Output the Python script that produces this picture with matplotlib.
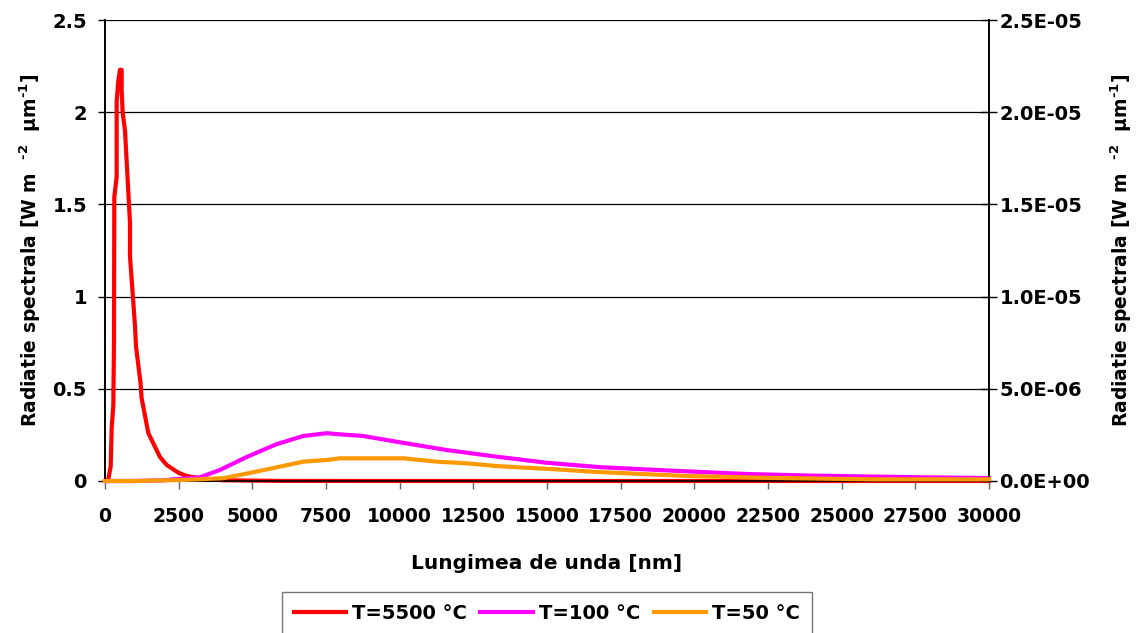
import matplotlib
matplotlib.use("Agg")
import matplotlib.pyplot as plt
from matplotlib.ticker import FuncFormatter

plt.rcParams['font.family'] = ['DejaVu Sans']
plt.rcParams['font.weight'] = 'bold'
plt.rcParams['mathtext.fontset'] = 'custom'
plt.rcParams['mathtext.rm'] = 'DejaVu Sans:bold'
plt.rcParams['mathtext.default'] = 'rm'

# T=5500 C, left axis [W m-2 um-1]
wl_5500 = [100, 193, 227, 282, 305, 316, 396, 396, 452, 509, 565, 565, 599, 679, 848,
           848, 1018, 1052, 1207, 1242, 1470, 1866, 2093, 2489, 2772, 3224, 4000,
           6000, 10000, 15000, 20000, 25000, 30000]
rad_5500 = [0.0, 0.078, 0.29, 0.41, 0.76, 1.54, 1.65, 2.06, 2.17, 2.23, 2.23, 2.12, 2.0,
            1.90, 1.40, 1.22, 0.84, 0.73, 0.53, 0.45, 0.26, 0.13, 0.087, 0.045, 0.027,
            0.015, 0.004, 0.0005, 0.0, 0.0, 0.0, 0.0, 0.0]

# T=100 C and T=50 C, right axis
wl_100 = [0, 1000, 2000, 2545, 3224, 3902, 4807, 5825, 6730, 7522, 7975, 8766, 9897,
          11594, 13290, 14987, 16797, 18720, 20077, 21774, 24036, 27768, 30000]
rad_100 = [0.0, 0.0, 0.004, 0.012, 0.02, 0.06, 0.13, 0.20, 0.244, 0.259, 0.253, 0.244,
           0.213, 0.168, 0.132, 0.099, 0.075, 0.06, 0.05, 0.038, 0.029, 0.02, 0.016]
rad_100 = [v * 1e-5 for v in rad_100]

wl_50 = [0, 1000, 2545, 4000, 4807, 5938, 6730, 7522, 7975, 10122, 11253, 12271, 13290,
         15326, 16570, 17927, 19793, 22113, 26071, 30000]
rad_50 = [0.0, 0.0, 0.005, 0.015, 0.04, 0.078, 0.105, 0.114, 0.123, 0.123, 0.105, 0.096,
          0.081, 0.063, 0.05, 0.04, 0.027, 0.018, 0.009, 0.009]
rad_50 = [v * 1e-5 for v in rad_50]

fig = plt.figure(figsize=(11.41, 6.33), dpi=100)
ax = fig.add_axes([105 / 1141, 1 - 481 / 633, 884 / 1141, 461 / 633])
ax2 = ax.twinx()

ax.set_xlim(0, 30000)
ax.set_ylim(0, 2.5)
ax2.set_ylim(0, 2.5e-5)
ax.set_yticks([0, 0.5, 1, 1.5, 2, 2.5])
ax.set_yticklabels(['0', '0.5', '1', '1.5', '2', '2.5'])
ax2.set_yticks([0, 0.5e-5, 1e-5, 1.5e-5, 2e-5, 2.5e-5])
ax2.yaxis.set_major_formatter(FuncFormatter(lambda v, p: '%.1E' % v))
ax.set_xticks(range(0, 30001, 2500))
ax.yaxis.grid(True, color='black', linewidth=0.9)
ax.set_axisbelow(True)

for a in (ax, ax2):
    a.spines['top'].set_visible(False)
    for s in a.spines.values():
        s.set_linewidth(1.2)
ax.tick_params(axis='y', direction='out', length=5, width=1, labelsize=14, pad=8)
ax.tick_params(axis='x', direction='out', length=6, width=1, color='#666666',
               labelsize=13.5, pad=13)
ax2.tick_params(axis='y', direction='inout', length=11, width=1, labelsize=14, pad=2)

l1, = ax.plot(wl_5500, rad_5500, color='#ff0000', linewidth=3, label='T=5500 °C',
              clip_on=False, zorder=3)
l2, = ax2.plot(wl_100, rad_100, color='#ff00ff', linewidth=3, label='T=100 °C',
               clip_on=False, zorder=2)
l3, = ax2.plot(wl_50, rad_50, color='#ff9900', linewidth=3, label='T=50 °C',
               clip_on=False, zorder=3)

ylab = r'Radiatie spectrala [W m  $^{\text{-2}}$  µm$^{\text{-1}}$]'
ax.set_ylabel(ylab, fontsize=13.5, fontweight='bold', labelpad=7)
ax2.set_ylabel(ylab, fontsize=13.5, fontweight='bold', labelpad=13)
ax.set_xlabel('Lungimea de unda [nm]', fontsize=14.5, fontweight='bold', labelpad=20)

leg = fig.legend(handles=[l1, l2, l3], loc='upper left', ncol=3,
                 bbox_to_anchor=(282 / 1141, 1 - 592 / 633),
                 fontsize=14, frameon=True, fancybox=False, edgecolor='#555555',
                 handlelength=2.7, columnspacing=0.7, handletextpad=0.3,
                 borderpad=0.6, borderaxespad=0)
leg.get_frame().set_linewidth(1)

fig.savefig('out.png', dpi=100)
